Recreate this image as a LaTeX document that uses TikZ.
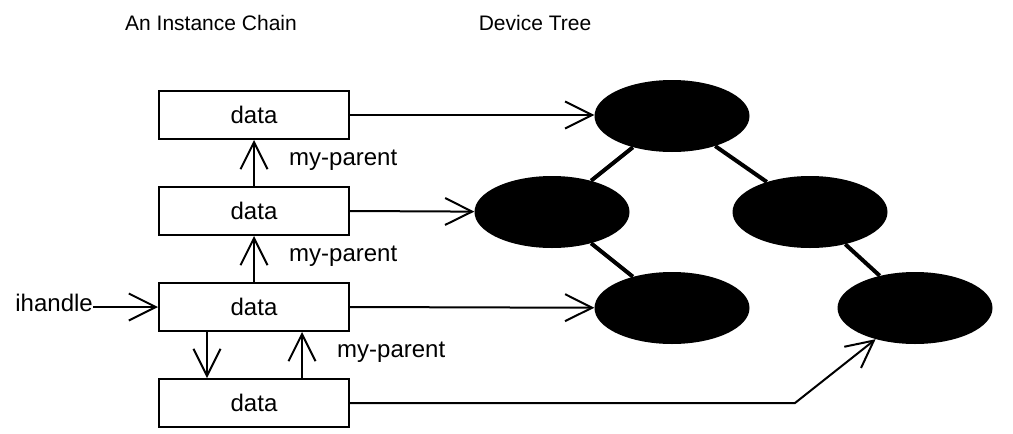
\documentclass[tikz,border=0pt]{standalone}
\usepackage{fontspec}
\setmainfont{Liberation Sans}
\usetikzlibrary{arrows.meta, shapes, positioning}

\tikzset{
    databox/.style={draw, line width=2pt, minimum width=190pt, minimum height=48pt, inner sep=0pt, font=\fontsize{24}{28}\selectfont},
    devnode/.style={ellipse, fill=black, minimum width=155pt, minimum height=72pt, inner sep=0pt},
    lbl/.style={inner sep=0pt, font=\fontsize{24}{28}\selectfont},
    heading/.style={font=\fontsize{21}{25}\selectfont},
    ptr/.style={-{Straight Barb[length=27pt, width=27pt]}, line width=2pt},
    branch/.style={line width=4pt},
}

\begin{document}
\begin{tikzpicture}[x=1pt, y=-1pt]
    \useasboundingbox (0,0) rectangle (1013,434);

    %% Headings
    \node[heading] (chainhead) at (211,23) {An Instance Chain};
    \node[heading] (treehead) at (535,23) {Device Tree};

    %% Instance chain

    % Instances
    \node[databox] (inst1) at (254,115) {data};
    \node[databox] (inst2) at (254,211) {data};
    \node[databox] (inst3) at (254,307) {data};
    \node[databox] (inst4) at (254,403) {data};

    % Parent links
    \draw[ptr] (inst2.north) -- (inst1.south);
    \draw[ptr] (inst3.north) -- (inst2.south);
    \draw[ptr] ([xshift=-47]inst3.south) -- ([xshift=-47]inst4.north);
    \draw[ptr] ([xshift=48]inst4.north) -- ([xshift=48]inst3.south);
    \node[lbl, anchor=west] (par1) at (289,160) {my-parent};
    \node[lbl, anchor=west] (par2) at (289,256) {my-parent};
    \node[lbl, anchor=west] (par3) at (337,352) {my-parent};

    % Handle
    \node[lbl, anchor=base east] (ihandle) at (93,311) {ihandle};
    \draw[ptr] (ihandle.east |- inst3.west) -- (inst3.west);

    %% Device tree

    % Nodes
    \node[devnode] (root) at (672,116) {};
    \node[devnode] (left) at (552,212) {};
    \node[devnode] (right) at (810,212) {};
    \node[devnode] (leftkid) at (672,308) {};
    \node[devnode] (rightkid) at (915,308) {};

    % Branches
    \draw[branch] (root) -- (left);
    \draw[branch] (root) -- (right);
    \draw[branch] (left) -- (leftkid);
    \draw[branch] (right) -- (rightkid);

    % Instance to device
    \coordinate (bend) at (795,403);
    \draw[ptr] (inst1.east) -- (inst1.east -| root.west);
    \draw[ptr] (inst2.east) -- (left);
    \draw[ptr] (inst3.east) -- (leftkid);
    \draw[ptr] (inst4.east) -- (bend) -- (rightkid);

\end{tikzpicture}
\end{document}
